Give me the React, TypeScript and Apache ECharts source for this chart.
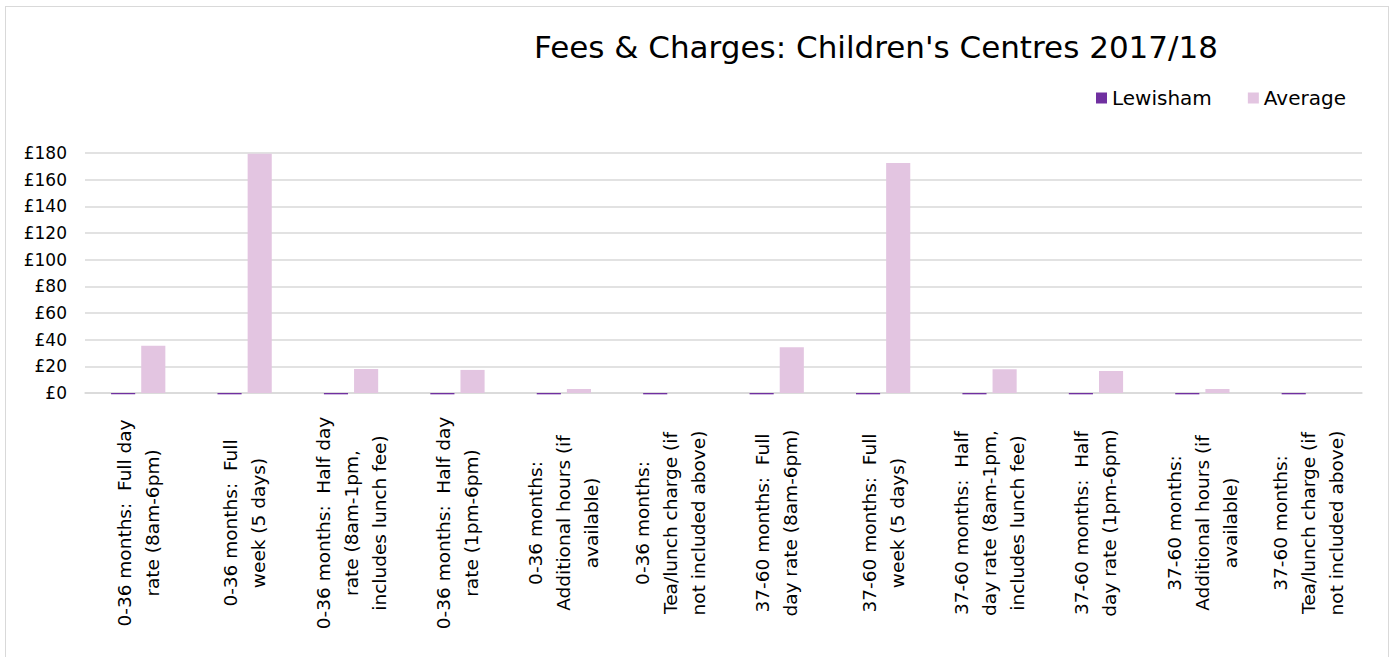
import React, { useEffect, useRef } from "react";
import * as echarts from "echarts";

const categories: string[] = [
  "0-36 months:  Full day\nrate (8am-6pm)",
  "0-36 months:  Full\nweek (5 days)",
  "0-36 months:  Half day\nrate (8am-1pm,\nincludes lunch fee)",
  "0-36 months:  Half day\nrate (1pm-6pm)",
  "0-36 months:\nAdditional hours (if\navailable)",
  "0-36 months:\nTea/lunch charge (if\nnot included above)",
  "37-60 months:  Full\nday rate (8am-6pm)",
  "37-60 months:  Full\nweek (5 days)",
  "37-60 months:  Half\nday rate (8am-1pm,\nincludes lunch fee)",
  "37-60 months:  Half\nday rate (1pm-6pm)",
  "37-60 months:\nAdditional hours (if\navailable)",
  "37-60 months:\nTea/lunch charge (if\nnot included above)",
];

const lewisham: number[] = [-1, -1, -1, -1, -1, -1, -1, -1, -1, -1, -1, -1];
const average: number[] = [35.5, 179.5, 18, 17.3, 3, 0, 34.3, 172.5, 17.8, 16.5, 3, 0];

const yTicks: number[] = [0, 20, 40, 60, 80, 100, 120, 140, 160, 180];

const FONT = "DejaVu Sans";

export default function App() {
  const ref = useRef<HTMLDivElement>(null);
  useEffect(() => {
    document.body.style.margin = "0";
    const chart = echarts.init(ref.current!, null, { renderer: "svg" });
    chart.setOption({
      animation: false,
      textStyle: { fontFamily: FONT },
      title: {
        text: "Fees & Charges: Children's Centres 2017/18",
        left: 529,
        top: 26,
        textStyle: { fontFamily: FONT, fontSize: 31, fontWeight: "normal", color: "#000" },
      },
      legend: {
        left: 1091,
        top: 83,
        itemWidth: 11,
        itemHeight: 11,
        itemGap: 36,
        icon: "rect",
        textStyle: { fontFamily: FONT, fontSize: 20, color: "#000" },
        data: ["Lewisham", "Average"],
      },
      grid: { left: 85, right: 31, top: 153, bottom: 264, containLabel: false },
      xAxis: {
        type: "category",
        data: categories,
        axisLine: { show: true, lineStyle: { color: "#d9d9d9", width: 1.5 } },
        axisTick: { show: false },
        axisLabel: {
          interval: 0,
          rotate: 90,
          align: "center",
          verticalAlign: "middle",
          margin: 130,
          fontFamily: FONT,
          fontSize: 18.5,
          lineHeight: 28,
          color: "#000",
        },
      },
      yAxis: {
        type: "value",
        min: yTicks[0],
        max: yTicks[yTicks.length - 1],
        interval: 20,
        axisLine: { show: false },
        axisTick: { show: false },
        splitLine: { lineStyle: { color: "#d9d9d9", width: 1.5 } },
        axisLabel: {
          formatter: (v: number) => "£" + v,
          fontFamily: FONT,
          fontSize: 17,
          color: "#000",
          margin: 18,
        },
      },
      series: [
        {
          name: "Lewisham",
          type: "bar",
          data: lewisham,
          clip: false,
          itemStyle: { color: "#7030a0" },
          barGap: "25%",
          barCategoryGap: "49%",
        },
        {
          name: "Average",
          type: "bar",
          data: average,
          clip: false,
          itemStyle: { color: "#e3c5e1" },
          barGap: "25%",
          barCategoryGap: "49%",
        },
      ],
    });
    return () => chart.dispose();
  }, []);
  return (
    <div style={{ position: "relative", width: 1393, height: 657, overflow: "hidden", background: "#fff" }}>
      <div
        style={{
          position: "absolute",
          left: 5,
          top: 6,
          width: 1384,
          height: 700,
          boxSizing: "border-box",
          border: "1.5px solid #d9d9d9",
        }}
      />
      <div ref={ref} style={{ position: "absolute", left: 0, top: 0, width: 1393, height: 657 }} />
    </div>
  );
}
